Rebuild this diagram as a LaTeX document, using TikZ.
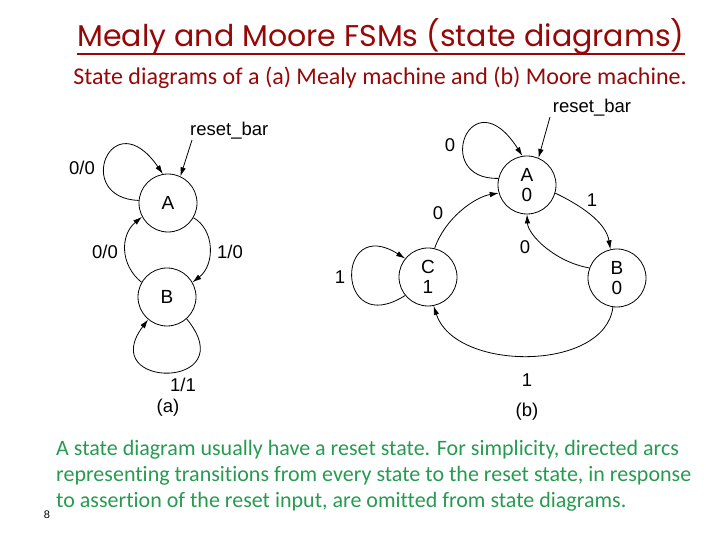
\documentclass[tikz,border=0pt]{standalone}
\usepackage{fontspec}
\setmainfont{Liberation Sans}
\newfontfamily\titlefont{Poppins}
\newfontfamily\calfont[Ligatures={NoCommon}]{Carlito}
\usetikzlibrary{arrows.meta}
\definecolor{maroon}{RGB}{150,8,8}
\definecolor{textgreen}{RGB}{38,155,80}
\tikzset{
  st/.style={circle,draw,line width=0.8pt,minimum size=58pt,inner sep=0pt,font=\fontsize{19}{21}\selectfont,align=center},
  lbl/.style={font=\fontsize{18.5}{21}\selectfont,inner sep=1pt},
  arc/.style={line width=0.8pt,-{Latex[length=9pt,width=5.5pt]}},
  note/.style={text=textgreen,font=\calfont\fontsize{22}{26}\selectfont,anchor=west,inner sep=0pt},
}
\begin{document}
\begin{tikzpicture}[x=1pt,y=1pt]
\useasboundingbox (0,0) rectangle (720,540);
% titles
\node[text=maroon,font=\titlefont\fontsize{30}{34}\selectfont,inner sep=0pt] (title) at (381,503) {Mealy and Moore FSMs (state diagrams)};
\draw[maroon,line width=2pt] (title.south west |- 0,486) -- (title.south east |- 0,486);
\node[text=maroon,font=\calfont\fontsize{24}{28}\selectfont,inner sep=0pt] (sub) at (380,462) {State diagrams of a (a) Mealy machine and (b) Moore machine.};
% Mealy
\node[st] (A) at (168,337) {A};
\node[st] (B) at (167,243) {B};
\node[lbl,anchor=west] (rbA) at (189,409) {reset\_bar};
\coordinate (rA) at (192,400);
\draw[arc] (rA) -- (A.65);
\draw[arc] (A.175) .. controls (72,342) and (112,440) .. (A.100);
\node[lbl] (lA) at (82,372) {0/0};
\draw[arc] (A.-30) .. controls (215,310) and (215,275) .. (B.30);
\node[lbl] (lAB) at (230,288) {1/0};
\draw[arc] (B.150) .. controls (120,275) and (120,305) .. (A.208);
\node[lbl] (lBA) at (105,288) {0/0};
\draw[arc] (B.-48) .. controls (245,150) and (95,150) .. (B.230);
\node[lbl] (lB) at (183,155) {1/1};
\node[lbl] (ca) at (168,132) {(a)};
% Moore
\node[st] (MA) at (527,355) {A\\[-1pt]0};
\node[st] (MB) at (617,262) {B\\[-1pt]0};
\node[st] (MC) at (428,263) {C\\[-1pt]1};
\node[lbl] (rbB) at (592,432) {reset\_bar};
\coordinate (rB) at (550,423);
\draw[arc] (rB) -- (MA.67);
\draw[arc] (MA.167) .. controls (431,360) and (471,465) .. (MA.99);
\node[lbl] (lMA) at (450,395) {0};
\draw[arc] (MA.-16) .. controls (580,335) and (606,318) .. (MB.103);
\node[lbl] (lMAB) at (592,340) {1};
\draw[arc] (MB.160) .. controls (555,278) and (528,305) .. (MA.-90);
\node[lbl] (lMBA) at (525,293) {0};
\draw[arc] (MC.77) .. controls (445,322) and (475,343) .. (MA.196);
\node[lbl] (lMCA) at (438,327) {0};
\draw[arc] (MB.262) .. controls (605,168) and (455,168) .. (MC.281);
\node[lbl] (lMBC) at (527,160) {1};
\draw[arc] (MC.219) .. controls (335,200) and (335,326) .. (MC.141);
\node[lbl] (lMC) at (340,263) {1};
\node[lbl] (cb) at (527,128) {(b)};
% bottom text
\node[note] (t1) at (56,90) {A state diagram usually have a reset state. For simplicity, directed arcs};
\node[note] (t2) at (56,64) {representing transitions from every state to the reset state, in response};
\node[note] (t3) at (56,38) {to assertion of the reset input, are omitted from state diagrams.};
\node[font=\fontsize{11}{13}\selectfont,inner sep=0pt] (pg) at (47,25) {8};
\end{tikzpicture}
\end{document}
